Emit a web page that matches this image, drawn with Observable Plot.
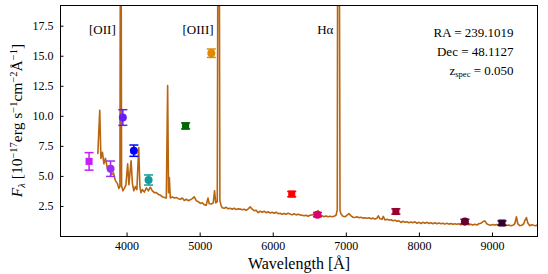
<!DOCTYPE html>
<html><head><meta charset="utf-8">
<script src="https://cdn.jsdelivr.net/npm/d3@7"></script>
<script src="https://cdn.jsdelivr.net/npm/@observablehq/plot@0.6"></script>
<style>body{margin:0;background:#fff} svg{display:block} svg text{font-family:'Liberation Serif','DejaVu Serif',serif}</style>
</head><body><div id="chart"></div>
<script>
// Observed-frame spectrum (Å, 1e-17 erg/s/cm2/Å)
const specWave = [3600,3626,3642,3663,3683,3704,3731,3758,3786,3813,3840,3868,3888,3902,3913,3925,3943,3963,3984,4008,4025,4055,4073,4093,4114,4134,4159,4175,4189,4209,4237,4264,4291,4318,4346,4373,4400,4428,4455,4482,4510,4537,4555,4567,4578,4592,4619,4646,4674,4701,4728,4756,4783,4810,4838,4865,4892,4919,4947,4974,5002,5029,5056,5083,5107,5124,5152,5179,5197,5213,5234,5249,5256,5270,5288,5302,5329,5357,5384,5411,5439,5466,5493,5521,5548,5575,5603,5630,5657,5685,5712,5739,5767,5794,5821,5849,5876,5903,5930,5958,5985,6012,6040,6067,6094,6122,6149,6176,6203,6231,6258,6285,6313,6340,6368,6395,6422,6449,6477,6504,6531,6559,6586,6613,6641,6668,6695,6723,6750,6777,6805,6832,6859,6876,6885,6898,6914,6928,6955,6982,7010,7037,7065,7092,7119,7146,7174,7201,7228,7256,7283,7310,7338,7365,7392,7420,7437,7461,7488,7506,7529,7556,7584,7611,7638,7666,7693,7720,7747,7775,7802,7829,7857,7884,7911,7939,7966,7993,8021,8048,8075,8103,8130,8157,8184,8212,8239,8266,8294,8321,8348,8376,8403,8430,8458,8485,8512,8540,8567,8594,8622,8649,8676,8704,8731,8758,8786,8813,8840,8867,8895,8922,8949,8977,9004,9031,9059,9086,9113,9141,9168,9195,9223,9250,9277,9305,9328,9346,9373,9400,9428,9441,9464,9482,9510,9537,9564,9592,9610];
const specFlux = [6.9,10.5,6.5,7.0,6.05,6.5,5.65,5.9,5.15,5.3,4.65,4.4,4.0,4.15,40,4.2,3.8,4.0,4.3,6.05,4.3,6.3,4.4,3.8,4.15,3.9,7.4,4.2,3.65,3.9,3.7,4.05,3.8,4.1,3.8,3.65,3.65,3.5,3.45,3.3,3.25,3.2,12.55,3.65,4.9,3.2,3.3,3.2,3.25,3.15,3.1,3.2,3.0,3.1,2.98,3.05,3.15,3.3,2.98,2.9,2.75,2.8,2.65,2.6,3.2,2.72,2.7,2.8,3.8,2.8,2.9,40,40,2.98,2.55,2.4,2.35,2.43,2.3,2.35,2.27,2.35,2.24,2.3,2.28,2.22,2.27,2.18,2.3,2.47,2.27,2.15,2.18,1.98,2.1,2.02,2.1,1.98,2.06,1.95,2.02,1.93,2.02,1.9,1.93,1.85,1.92,1.85,1.93,1.87,1.8,1.89,1.8,1.85,1.8,1.77,1.72,1.77,1.68,1.77,1.8,1.85,1.92,2.15,1.8,1.72,1.64,1.7,1.64,1.68,1.64,1.68,1.77,2.2,40,40,2.15,1.87,1.68,1.64,1.77,1.9,1.72,1.6,1.58,1.64,1.56,1.6,1.53,1.56,1.52,1.56,1.48,1.53,1.45,1.52,1.72,1.48,1.43,1.67,1.37,1.43,1.37,1.4,1.31,1.35,1.27,1.31,1.17,1.27,1.18,1.22,1.14,1.2,1.14,1.22,1.1,1.18,1.08,1.18,1.1,1.18,1.08,1.14,1.06,1.14,1.06,1.12,1.06,1.1,1.03,1.1,1.03,1.08,1.02,1.06,1.02,1.06,0.97,1.03,0.97,1.03,0.97,1.02,0.95,1.02,0.96,1.06,1.1,1.22,1.3,1.06,0.97,0.93,0.99,0.95,0.99,0.93,0.97,0.93,0.97,0.91,0.95,0.9,0.93,1.06,1.64,1.06,0.9,0.93,1.06,1.3,1.58,1.14,0.9,0.97,0.93,0.9,0.95];

// Photometry
const photWave  = [3480, 3774, 3942, 4093, 4294, 4801, 5153, 6253, 6605, 7678, 8623, 9130];
const photFlux  = [6.25, 5.64, 9.9, 7.14, 4.7, 9.2, 15.25, 3.53, 1.82, 2.08, 1.25, 1.12];
const photErr   = [0.73, 0.64, 0.65, 0.47, 0.42, 0.25, 0.35, 0.22, 0.18, 0.22, 0.18, 0.18];
const photShape = ["square","circle","circle","circle","circle","square","circle","square","circle","square","circle","square"];
const photColor = ["#c81ef5","#9a2ef5","#6a1cf5","#0000ff","#139a9a","#006600","#e08a00","#ff0000","#d8006e","#990033","#660033","#330033"];

// Emission-line labels
const lineNames = ["[OII]", "[OIII]", "Hα"];
const lineWave  = [3913, 5252, 6891];

const infoLines = ["RA = 239.1019", "Dec = 48.1127", "z_spec = 0.050"];
const xTicks = [4000, 5000, 6000, 7000, 8000, 9000];
const yTicks = [2.5, 5.0, 7.5, 10.0, 12.5, 15.0, 17.5];

const spec = specWave.map((w, i) => ({w, f: specFlux[i]}));
const phot = photWave.map((w, i) => ({w, f: photFlux[i], e: photErr[i], shape: photShape[i], color: photColor[i]}));
const lines = lineNames.map((n, i) => ({n, w: lineWave[i]}));

const cap = {draw(ctx, size) { const w = Math.sqrt(size) / 2; ctx.moveTo(-w, 0); ctx.lineTo(w, 0); }};
const FONT = "'Liberation Serif', 'DejaVu Serif', serif";

const plot = Plot.plot({
  width: 548, height: 274,
  marginLeft: 60, marginRight: 11, marginTop: 5, marginBottom: 38,
  style: {fontFamily: FONT, fontSize: "12px", color: "black", background: "white"},
  x: {domain: [3089, 9616]},
  y: {domain: [0, 19.22]},
  marks: [
    Plot.line(spec, {x: "w", y: "f", stroke: "#b9640f", strokeWidth: 1.6, clip: true}),
    Plot.link(phot, {x1: "w", x2: "w", y1: d => d.f - d.e, y2: d => d.f + d.e, stroke: "color", strokeWidth: 1.5}),
    Plot.dot(phot, {x: "w", y: d => d.f - d.e, symbol: cap, r: 5.1, stroke: "color", fill: "none", strokeWidth: 1.5}),
    Plot.dot(phot, {x: "w", y: d => d.f + d.e, symbol: cap, r: 5.1, stroke: "color", fill: "none", strokeWidth: 1.5}),
    Plot.dot(phot, {x: "w", y: "f", symbol: "shape", fill: "color", r: 4, stroke: null}),
    Plot.text(lines, {x: "w", text: "n", frameAnchor: "top", dy: 24, dx: -5, textAnchor: "end", lineAnchor: "middle", fontSize: 13}),
    Plot.text([infoLines.join("\n")], {frameAnchor: "top-right", dx: -24, dy: 18, textAnchor: "end", lineAnchor: "top", lineHeight: 1.45, fontSize: 13}),
    Plot.text(["Wavelength [Å]"], {frameAnchor: "bottom", dy: 27, lineAnchor: "middle", fontSize: 16}),
    Plot.axisX(xTicks, {anchor: "bottom", tickSize: -3.5, tickPadding: 8, tickFormat: d3.format("d"), fontSize: 12, label: null}),
    Plot.axisY(yTicks, {anchor: "left", tickSize: -3.5, tickPadding: 10.5, tickFormat: d3.format(".1f"), fontSize: 12, label: null}),
    Plot.frame({stroke: "black", strokeWidth: 1})
  ]
});

document.getElementById("chart").appendChild(plot);
const svg = d3.select(plot);

// subscript for z_spec
svg.selectAll("text, tspan").each(function() {
  if (this.childElementCount === 0 && this.textContent.startsWith("z_spec")) {
    const rest = this.textContent.slice(6);
    const el = d3.select(this);
    el.text("");
    el.append("tspan").text("z");
    el.append("tspan").attr("font-size", "8.5px").attr("dy", "2.5").text("spec");
    el.append("tspan").attr("dy", "-2.5").text(rest);
  }
});

// y-axis label with sub/superscripts
const yl = svg.append("text")
  .attr("transform", `translate(22,${(5 + 236) / 2}) rotate(-90)`)
  .attr("text-anchor", "middle")
  .attr("font-family", FONT)
  .attr("font-size", "15.5px")
  .attr("fill", "black");
const parts = [
  ["F", "italic", 0, 0], ["λ", "italic", 3, 1], [" [10", null, -3, 0], ["−17", null, -5.5, 1],
  ["erg s", null, 5.5, 0], ["−1", null, -5.5, 1], ["cm", null, 5.5, 0], ["−2", null, -5.5, 1],
  ["Å", null, 5.5, 0], ["−1", null, -5.5, 1], ["]", null, 5.5, 0]
];
for (const [t, style, dy, small] of parts) {
  const ts = yl.append("tspan").text(t);
  if (style) ts.attr("font-style", style);
  if (dy) ts.attr("dy", dy);
  if (small) ts.attr("font-size", "10.5px");
}
</script>
</body></html>
